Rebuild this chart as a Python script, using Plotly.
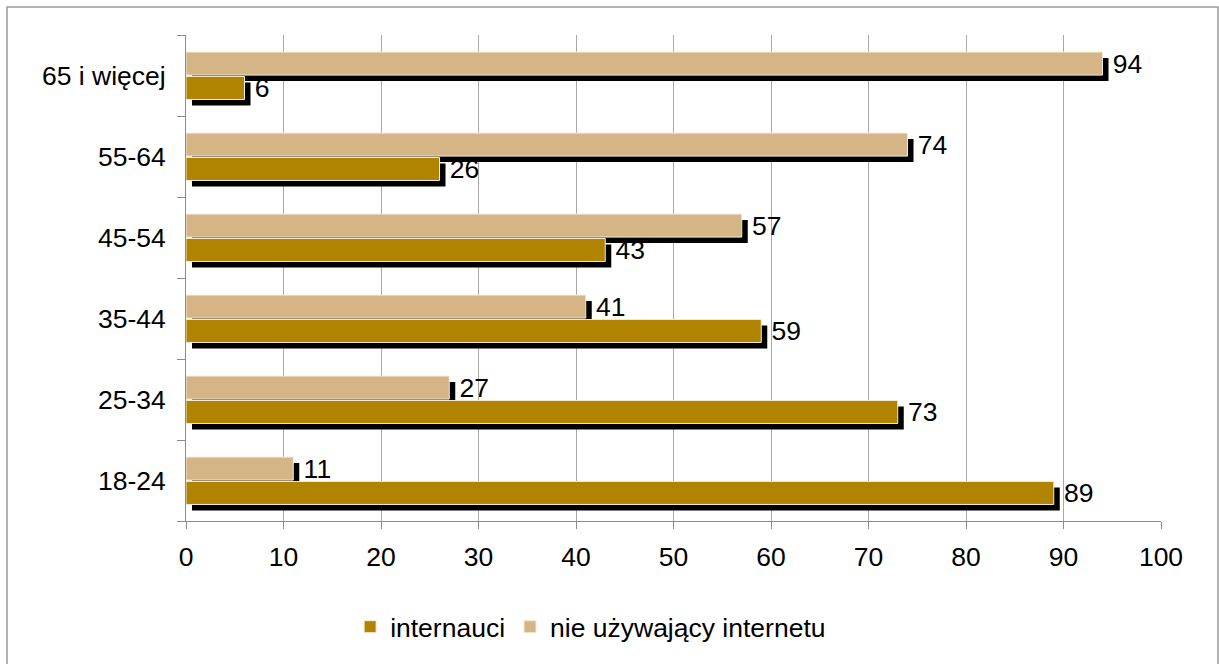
import plotly.graph_objects as go

categories = ["18-24", "25-34", "35-44", "45-54", "55-64", "65 i więcej"]
internauci = [89, 73, 59, 43, 26, 6]
nie_uzywajacy = [11, 27, 41, 57, 74, 94]
x_ticks = [0, 10, 20, 30, 40, 50, 60, 70, 80, 90, 100]

DARK = "#B08300"
TAN = "#D5B585"
OUTLINE = "#F3EAD8"
FONT = "Liberation Sans, Arial, sans-serif"
FS = 26.5

W, H = 1219, 664
L, R, T, B = 186, 58, 35, 143
pw, ph = W - L - R, H - T - B
px_x = pw / 100.0            # pixels per value unit
px_y = ph / len(categories)  # pixels per category

bar_w = 23 / px_y
shadow_dx = 6 / px_x
shadow_dy = 6 / px_y
tan_off = 0.005
dark_off = -0.012 - bar_w

fig = go.Figure()

# shadows
for vals, off in [(internauci, dark_off), (nie_uzywajacy, tan_off)]:
    fig.add_trace(go.Bar(
        y=categories, x=vals, orientation="h",
        base=shadow_dx, width=bar_w, offset=off - shadow_dy,
        marker=dict(color="black", line=dict(width=0)),
        showlegend=False, hoverinfo="skip",
    ))

# main bars
fig.add_trace(go.Bar(
    y=categories, x=internauci, orientation="h", name="internauci",
    width=bar_w, offset=dark_off,
    marker=dict(color=DARK, line=dict(color=OUTLINE, width=1)),
    text=internauci, texttemplate=" %{x}", textposition="outside",
    constraintext="none", cliponaxis=False,
    textfont=dict(size=FS, color="black", family=FONT),
))
fig.add_trace(go.Bar(
    y=categories, x=nie_uzywajacy, orientation="h", name="nie używający internetu",
    width=bar_w, offset=tan_off,
    marker=dict(color=TAN, line=dict(color=OUTLINE, width=1)),
    text=nie_uzywajacy, texttemplate=" %{x}", textposition="outside",
    constraintext="none", cliponaxis=False,
    textfont=dict(size=FS, color="black", family=FONT),
))

fig.update_layout(
    width=W, height=H,
    margin=dict(l=L, r=R, t=T, b=B, autoexpand=False),
    barmode="overlay",
    plot_bgcolor="white", paper_bgcolor="white",
    font=dict(family=FONT, size=FS, color="black"),
    xaxis=dict(
        range=[0, 100], tickvals=x_ticks, ticktext=[str(v) for v in x_ticks],
        showgrid=True, gridcolor="#A8A8A8", gridwidth=1,
        showline=True, linecolor="#8C8C8C", linewidth=1,
        ticks="outside", ticklen=7, tickcolor="#8C8C8C",
        ticklabelstandoff=5,
        zeroline=False, fixedrange=True, automargin=False,
    ),
    yaxis=dict(
        categoryorder="array", categoryarray=categories,
        range=[-0.5, len(categories) - 0.5],
        showline=True, linecolor="#8C8C8C", linewidth=1,
        ticks="outside", ticklen=8, tickcolor="#8C8C8C",
        tickson="boundaries", showgrid=False, zeroline=False,
        ticklabelstandoff=14,
        fixedrange=True, automargin=False,
    ),
    legend=dict(
        orientation="h", x=0.415, xanchor="center", y=-0.218, yanchor="middle",
        font=dict(size=FS, family=FONT), traceorder="normal",
    ),
    showlegend=True,
)

def px_to_paper_x(xp):
    return (xp - L) / pw

def px_to_paper_y(yp):
    return (T + ph - yp) / ph

# outer border of the chart
fig.add_shape(
    type="rect", xref="paper", yref="paper",
    x0=px_to_paper_x(7), x1=px_to_paper_x(1218),
    y0=px_to_paper_y(672), y1=px_to_paper_y(7),
    line=dict(color="#9A9A9A", width=1.5), fillcolor="rgba(0,0,0,0)", layer="below",
)

fig.write_html(
    "out.html",
    config={"displayModeBar": False},
    post_script="document.body.style.margin='0px';document.body.style.overflow='hidden';",
)
